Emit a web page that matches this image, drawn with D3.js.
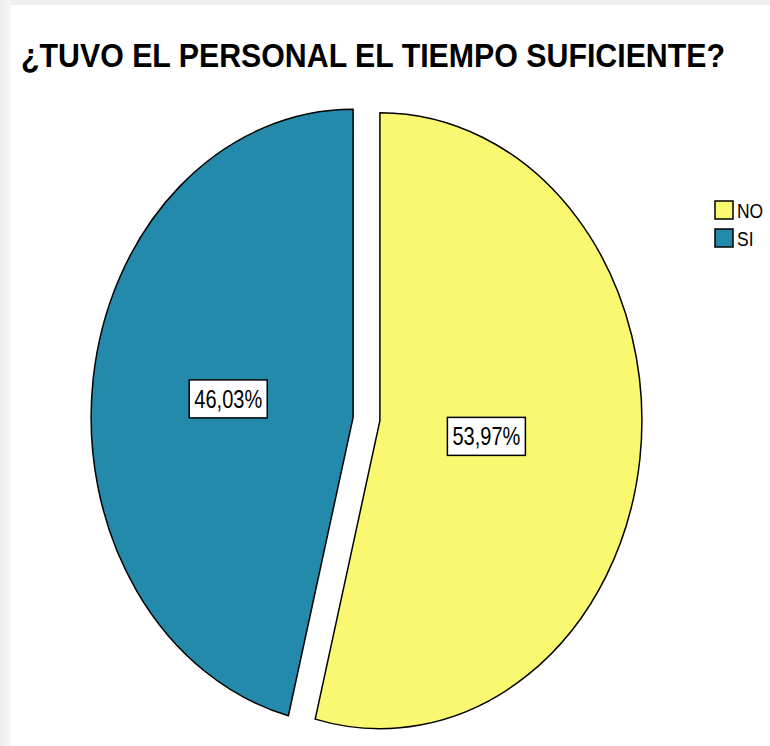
<!DOCTYPE html>
<html>
<head>
<meta charset="utf-8">
<script src="https://cdn.jsdelivr.net/npm/d3@7"></script>
<style>
  html, body { margin: 0; padding: 0; background: #fff; }
  svg { display: block; font-family: "Liberation Sans", Arial, sans-serif; }
</style>
</head>
<body>
<div id="chart"></div>
<script>
// data
const categories = ["NO", "SI"];
const percentages = [53.97, 46.03];
const colors = ["#FAF870", "#248AAB"];
const title = "¿TUVO EL PERSONAL EL TIEMPO SUFICIENTE?";

const width = 770, height = 746;
const cx = 366.5, cy = 419;     // pie centre
const rx = 262, ry = 308;       // the pie is stretched into an ellipse
const explode = 13.5;

const es = d3.formatLocale({ decimal: ",", thousands: ".", grouping: [3], currency: ["", ""] });
const fmt = es.format(".2f");

const svg = d3.select("#chart").append("svg")
    .attr("width", width)
    .attr("height", height);

// light grey frame on top and left
const grad = svg.append("defs").append("linearGradient")
    .attr("id", "side").attr("x1", 0).attr("x2", 1);
grad.append("stop").attr("offset", 0).attr("stop-color", "#ececec");
grad.append("stop").attr("offset", 1).attr("stop-color", "#f7f7f7");
svg.append("rect").attr("x", 0).attr("y", 0).attr("width", width).attr("height", 5).attr("fill", "#efefef");
svg.append("rect").attr("x", 0).attr("y", 0).attr("width", 11).attr("height", height).attr("fill", "url(#side)");

// title, stretched tall and squeezed like the original
svg.append("text")
    .attr("transform", "translate(21,67) scale(1,1.13)")
    .attr("font-size", 30)
    .attr("font-weight", "bold")
    .attr("fill", "#000")
    .attr("textLength", 704)
    .attr("lengthAdjust", "spacingAndGlyphs")
    .text(title);

const data = categories.map((c, i) => ({ name: c, value: percentages[i], color: colors[i] }));

const pie = d3.pie().sort(null).value(d => d.value);
const arc = d3.arc().innerRadius(0).outerRadius(1);

const arcs = pie(data);

const slices = svg.selectAll(".slice")
    .data(arcs)
    .enter().append("g")
    .attr("class", "slice")
    .attr("transform", d => {
        const mid = (d.startAngle + d.endAngle) / 2;
        const ox = Math.sin(mid) * explode, oy = -Math.cos(mid) * explode;
        return `translate(${cx + ox},${cy + oy})`;
    });

slices.append("path")
    .attr("transform", `scale(${rx},${ry})`)
    .attr("d", arc)
    .attr("fill", d => d.data.color)
    .attr("stroke", "#000")
    .attr("stroke-width", 1.5)
    .attr("stroke-linejoin", "round")
    .attr("vector-effect", "non-scaling-stroke");

// percentage labels in boxes, placed near the sector's centroid
slices.each(function(d) {
    const g = d3.select(this);
    const half = (d.endAngle - d.startAngle) / 2;
    const r = 1.05 * 2 * Math.sin(half) / (3 * half);
    const c = d3.arc().innerRadius(r).outerRadius(r).centroid(d);
    const lx = c[0] * rx, ly = c[1] * ry;
    const lab = g.append("g").attr("transform", `translate(${lx},${ly})`);
    const box = lab.append("rect");
    const txt = lab.append("text")
        .attr("text-anchor", "middle")
        .attr("dy", "0.36em")
        .attr("font-size", 25)
        .attr("fill", "#000")
        .text(fmt(d.data.value) + "%");
    const w = txt.node().getComputedTextLength() * 0.8;
    txt.attr("textLength", w).attr("lengthAdjust", "spacingAndGlyphs");
    box.attr("x", -39).attr("y", -19)
        .attr("width", 78).attr("height", 38)
        .attr("fill", "#fff")
        .attr("stroke", "#000")
        .attr("stroke-width", 1.5);
});

// legend
const legend = svg.selectAll(".legend")
    .data(data)
    .enter().append("g")
    .attr("class", "legend")
    .attr("transform", (d, i) => `translate(715,${201 + i * 28})`);

legend.append("rect")
    .attr("width", 18)
    .attr("height", 18)
    .attr("fill", d => d.color)
    .attr("stroke", "#000")
    .attr("stroke-width", 1.5);

legend.append("text")
    .attr("x", 22)
    .attr("y", 17)
    .attr("font-size", 21)
    .attr("fill", "#000")
    .each(function(d) {
        const el = d3.select(this).text(d.name);
        const w = this.getComputedTextLength() * 0.83;
        el.attr("textLength", w).attr("lengthAdjust", "spacingAndGlyphs");
    });
</script>
</body>
</html>
